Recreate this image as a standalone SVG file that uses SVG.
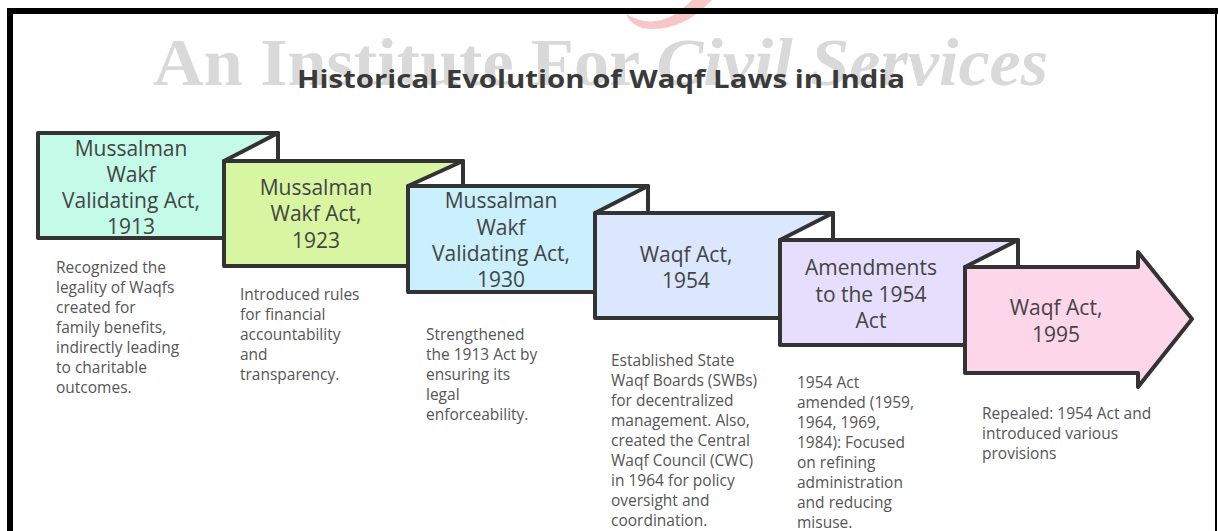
<svg xmlns="http://www.w3.org/2000/svg" width="1218" height="531" viewBox="0 0 1218 531">
<style>
.box{stroke:#333;stroke-width:4;stroke-linejoin:round;stroke-linecap:round}
.fold{fill:#fff;stroke:#333;stroke-width:4;stroke-linejoin:round;stroke-linecap:round}
.lbl{font-family:"Open Sans","DejaVu Sans",sans-serif;font-size:21px;fill:#444;text-anchor:middle}
.desc{font-family:"Open Sans","DejaVu Sans",sans-serif;font-size:15.5px;fill:#555}
.title{font-family:"Open Sans","DejaVu Sans",sans-serif;font-size:25px;font-weight:bold;fill:#3a3a3a}
.wm{font-family:"Liberation Serif",serif;font-size:68px;font-weight:bold;fill:#d9d9d9}
</style>
<rect width="1218" height="531" fill="#fff"/>
<g id="background">
<path d="M626,14 Q660,34 692,0 L712,0 Q680,34 642,28 Q630,24 626,14 Z" fill="#f8c6c6"/>
<rect x="7" y="8" width="1211" height="6" fill="#000"/>
<rect x="7" y="8" width="6" height="523" fill="#000"/>
<rect x="1215" y="8" width="2" height="523" fill="#000"/>
<text class="wm" x="153" y="85" textLength="895" lengthAdjust="spacingAndGlyphs">An Institute For <tspan font-style="italic">Civil Services</tspan></text>
</g>
<g id="title">
<text class="title" x="297" y="88" textLength="608" lengthAdjust="spacingAndGlyphs">Historical Evolution of Waqf Laws in India</text>
</g>
<g id="step1">
<rect class="box" x="38" y="133" width="240" height="105" fill="#c3fae8"/>
<text class="lbl"><tspan x="131" y="156">Mussalman</tspan><tspan x="131" y="182">Wakf</tspan><tspan x="131" y="208">Validating Act,</tspan><tspan x="131" y="234">1913</tspan></text>
<text class="desc"><tspan x="56" y="273">Recognized the</tspan><tspan x="56" y="293">legality of Waqfs</tspan><tspan x="56" y="313">created for</tspan><tspan x="56" y="333">family benefits,</tspan><tspan x="56" y="353">indirectly leading</tspan><tspan x="56" y="373">to charitable</tspan><tspan x="56" y="393">outcomes.</tspan></text>
</g>
<g id="connectors">
<path class="fold" d="M278,133 L224,161 L278,161 Z"/>
</g>
<g id="step2">
<rect class="box" x="224" y="161" width="239" height="105" fill="#d8f5a2"/>
<text class="lbl"><tspan x="316" y="195">Mussalman</tspan><tspan x="316" y="221">Wakf Act,</tspan><tspan x="316" y="248">1923</tspan></text>
<text class="desc"><tspan x="240" y="300">Introduced rules</tspan><tspan x="240" y="320">for financial</tspan><tspan x="240" y="340">accountability</tspan><tspan x="240" y="360">and</tspan><tspan x="240" y="380">transparency.</tspan></text>
</g>
<g id="fold2">
<path class="fold" d="M463,161 L408,186 L463,186 Z"/>
</g>
<g id="step3">
<rect class="box" x="408" y="186" width="240" height="106" fill="#c9f0fc"/>
<text class="lbl"><tspan x="501" y="208">Mussalman</tspan><tspan x="501" y="235">Wakf</tspan><tspan x="501" y="261">Validating Act,</tspan><tspan x="501" y="287">1930</tspan></text>
<text class="desc"><tspan x="426" y="340">Strengthened</tspan><tspan x="426" y="360">the 1913 Act by</tspan><tspan x="426" y="380">ensuring its</tspan><tspan x="426" y="400">legal</tspan><tspan x="426" y="420">enforceability.</tspan></text>
</g>
<g id="fold3">
<path class="fold" d="M648,186 L595,213 L648,213 Z"/>
</g>
<g id="step4">
<rect class="box" x="595" y="213" width="238" height="105" fill="#dbe6ff"/>
<text class="lbl"><tspan x="686" y="262">Waqf Act,</tspan><tspan x="686" y="288">1954</tspan></text>
<text class="desc"><tspan x="611" y="366">Established State</tspan><tspan x="611" y="386">Waqf Boards (SWBs)</tspan><tspan x="611" y="406">for decentralized</tspan><tspan x="611" y="426">management. Also,</tspan><tspan x="611" y="446">created the Central</tspan><tspan x="611" y="466">Waqf Council (CWC)</tspan><tspan x="611" y="486">in 1964 for policy</tspan><tspan x="611" y="506">oversight and</tspan><tspan x="611" y="526">coordination.</tspan></text>
</g>
<g id="fold4">
<path class="fold" d="M833,213 L780,240 L833,240 Z"/>
</g>
<g id="step5">
<rect class="box" x="780" y="240" width="238" height="105" fill="#e5dffd"/>
<text class="lbl"><tspan x="871" y="275">Amendments</tspan><tspan x="871" y="302">to the 1954</tspan><tspan x="871" y="328">Act</tspan></text>
<text class="desc"><tspan x="797" y="388">1954 Act</tspan><tspan x="797" y="408">amended (1959,</tspan><tspan x="797" y="428">1964, 1969,</tspan><tspan x="797" y="448">1984): Focused</tspan><tspan x="797" y="468">on refining</tspan><tspan x="797" y="488">administration</tspan><tspan x="797" y="508">and reducing</tspan><tspan x="797" y="528">misuse.</tspan></text>
</g>
<g id="fold5">
<path class="fold" d="M1018,240 L965,267 L1018,267 Z"/>
</g>
<g id="step6">
<path class="box" d="M965,267 L1138,267 L1138,252 L1192,319 L1138,387 L1138,373 L965,373 Z" fill="#fdd6ea"/>
<text class="lbl"><tspan x="1056" y="315">Waqf Act,</tspan><tspan x="1056" y="342">1995</tspan></text>
<text class="desc"><tspan x="982" y="419">Repealed: 1954 Act and</tspan><tspan x="982" y="439">introduced various</tspan><tspan x="982" y="459">provisions</tspan></text>
</g>
</svg>
